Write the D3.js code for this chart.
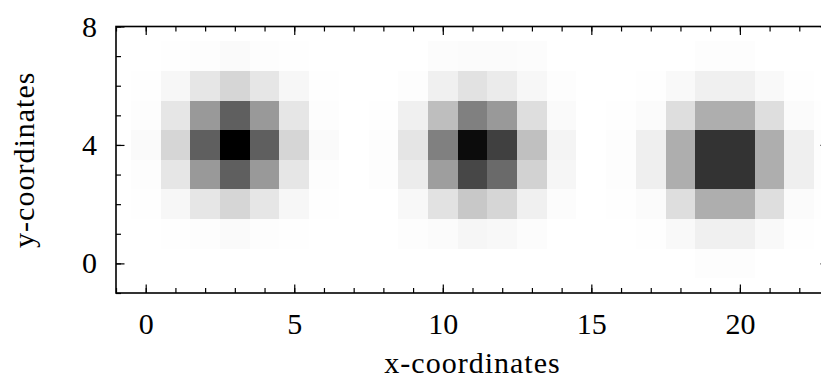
<!DOCTYPE html>
<html>
<head>
<meta charset="utf-8">
<script src="https://cdn.jsdelivr.net/npm/d3@7"></script>
<style>
  html, body { margin: 0; padding: 0; background: #ffffff; }
  svg { display: block; }
  text { font-family: "Liberation Serif", "Times New Roman", serif; fill: #000; }
</style>
</head>
<body>
<svg id="chart" width="821" height="383"></svg>
<script>
// ---- data ----
const xCells = d3.range(0, 24);           // cell centres along x: 0 .. 23
const yCells = [7, 6, 5, 4, 3, 2, 1, 0];  // rows, top to bottom
// darkness of each cell, 0 = white, 255 = black (rows in yCells order, columns in xCells order)
const intensity = [
  [0, 1, 2, 5, 2, 1, 0,   0,  0, 0, 3, 4, 4, 3, 0,   0,  0, 0, 0, 2, 2, 0, 0, 0],
  [1, 8, 25, 41, 25, 8, 1, 0,  0, 2, 15, 29, 20, 8, 2, 0,  0, 1, 6, 15, 15, 6, 1, 0],
  [2, 25, 102, 160, 102, 25, 2, 0,  1, 15, 65, 127, 102, 33, 5, 0,  1, 4, 33, 81, 81, 33, 4, 1],
  [5, 41, 160, 255, 160, 41, 5, 0,  2, 26, 127, 243, 191, 63, 11, 0,  2, 16, 81, 204, 204, 81, 16, 2],
  [2, 25, 102, 160, 102, 25, 2, 0,  2, 19, 97, 184, 149, 45, 9, 0,  2, 16, 81, 204, 204, 81, 16, 2],
  [1, 8, 25, 41, 25, 8, 1, 0,  0, 7, 29, 55, 41, 15, 3, 0,  1, 4, 33, 81, 81, 33, 4, 1],
  [0, 1, 2, 5, 2, 1, 0, 0,  0, 2, 4, 9, 7, 3, 0, 0,  0, 1, 6, 15, 15, 6, 1, 0],
  [0, 0, 0, 0, 0, 0, 0, 0,  0, 0, 0, 0, 0, 0, 0, 0,  0, 0, 0, 2, 2, 0, 0, 0]
];
const xDomain = [-1, 23];
const yDomain = [-1, 8];
const xMajorTicks = [0, 5, 10, 15, 20];
const yMajorTicks = [0, 4, 8];
const xMinorTicks = d3.range(-1, 24);
const yMinorTicks = d3.range(-1, 9);
const xLabel = "x-coordinates";
const yLabel = "y-coordinates";

// ---- layout ----
const plot = { left: 116, right: 829, top: 26.5, bottom: 293 };
const svg = d3.select("#chart");

const x = d3.scaleLinear().domain(xDomain).range([plot.left, plot.right]);
const y = d3.scaleLinear().domain(yDomain).range([plot.bottom, plot.top]);
const color = d3.scaleLinear().domain([0, 255]).range(["#ffffff", "#000000"]);

svg.append("defs").append("clipPath").attr("id", "clip")
  .append("rect")
  .attr("x", plot.left).attr("y", plot.top)
  .attr("width", plot.right - plot.left).attr("height", plot.bottom - plot.top);

const cells = [];
yCells.forEach((yv, r) => {
  xCells.forEach((xv, c) => {
    cells.push({ x: xv, y: yv, v: intensity[r][c] });
  });
});

svg.append("g").attr("clip-path", "url(#clip)")
  .selectAll("rect")
  .data(cells.filter(d => d.v > 0))
  .join("rect")
  .attr("x", d => x(d.x - 0.5))
  .attr("y", d => y(d.y + 0.5))
  .attr("width", d => x(d.x + 0.5) - x(d.x - 0.5))
  .attr("height", d => y(d.y - 0.5) - y(d.y + 0.5))
  .attr("fill", d => color(d.v))
  .attr("shape-rendering", "crispEdges");

// ---- axes ----
const fontSize = 30;
function styleAxis(g) {
  g.select(".domain").remove();
  g.selectAll(".tick line").attr("stroke", "#000").attr("stroke-width", 1.2);
  g.selectAll("text").attr("font-family", "Liberation Serif, serif")
    .attr("font-size", fontSize).attr("fill", "#000");
}
const minorLen = 5, majorLen = 8.5;

// bottom
svg.append("g").attr("transform", `translate(0,${plot.bottom})`)
  .call(d3.axisBottom(x).tickValues(xMinorTicks).tickSize(-minorLen).tickFormat(""))
  .call(styleAxis);
svg.append("g").attr("transform", `translate(0,${plot.bottom})`)
  .call(d3.axisBottom(x).tickValues(xMajorTicks).tickSize(-majorLen).tickPadding(19.5).tickFormat(d3.format("d")))
  .call(styleAxis);
// top
svg.append("g").attr("transform", `translate(0,${plot.top})`)
  .call(d3.axisTop(x).tickValues(xMinorTicks).tickSize(-minorLen).tickFormat(""))
  .call(styleAxis);
svg.append("g").attr("transform", `translate(0,${plot.top})`)
  .call(d3.axisTop(x).tickValues(xMajorTicks).tickSize(-majorLen).tickFormat(""))
  .call(styleAxis);
// left
svg.append("g").attr("transform", `translate(${plot.left},0)`)
  .call(d3.axisLeft(y).tickValues(yMinorTicks).tickSize(-minorLen).tickFormat(""))
  .call(styleAxis);
svg.append("g").attr("transform", `translate(${plot.left},0)`)
  .call(d3.axisLeft(y).tickValues(yMajorTicks).tickSize(-majorLen).tickPadding(19).tickFormat(d3.format("d")))
  .call(styleAxis);
// right
svg.append("g").attr("transform", `translate(${plot.right},0)`)
  .call(d3.axisRight(y).tickValues(yMinorTicks).tickSize(-minorLen).tickFormat(""))
  .call(styleAxis);
svg.append("g").attr("transform", `translate(${plot.right},0)`)
  .call(d3.axisRight(y).tickValues(yMajorTicks).tickSize(-majorLen).tickFormat(""))
  .call(styleAxis);

// frame
svg.append("rect")
  .attr("x", plot.left).attr("y", plot.top)
  .attr("width", plot.right - plot.left).attr("height", plot.bottom - plot.top)
  .attr("fill", "none").attr("stroke", "#000").attr("stroke-width", 1.6);

// axis titles
svg.append("text")
  .attr("x", (plot.left + plot.right) / 2).attr("y", 373)
  .attr("text-anchor", "middle").attr("font-size", fontSize)
  .attr("letter-spacing", 1)
  .text(xLabel);
svg.append("text")
  .attr("transform", `translate(34,${(plot.top + plot.bottom) / 2}) rotate(-90)`)
  .attr("text-anchor", "middle").attr("font-size", fontSize)
  .attr("letter-spacing", 1)
  .text(yLabel);
</script>
</body>
</html>
